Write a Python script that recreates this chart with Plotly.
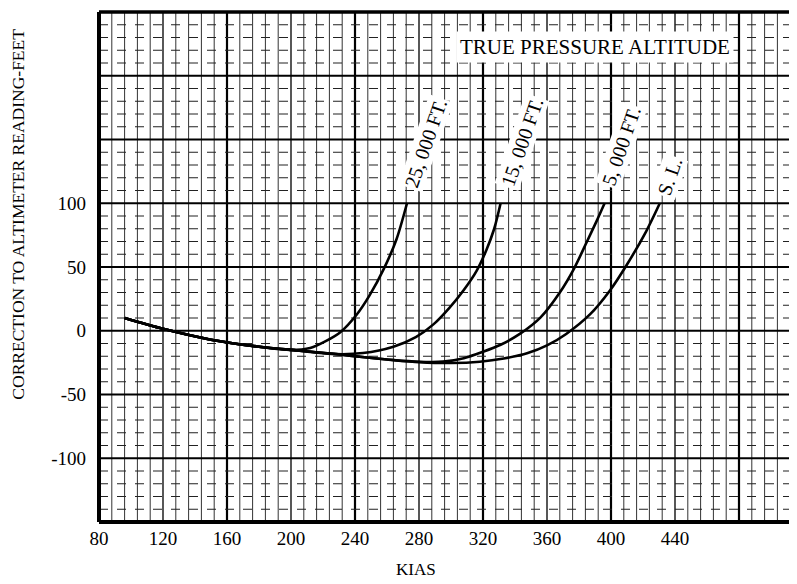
import numpy as np
import plotly.graph_objects as go

# ---- data ----
kias_25k = [96, 120, 150, 180, 200, 212, 222, 231, 241, 249, 258, 266, 272.5]
corr_25k = [10, 1.5, -7, -12.5, -15, -13.5, -8, -1, 12.5, 27.5, 48.5, 72, 100]

kias_15k = [96, 120, 150, 180, 204, 228, 245, 264, 278, 289, 299, 308, 316, 322, 327, 331]
corr_15k = [10, 1.5, -7, -12.5, -15.5, -18.3, -17.5, -12.5, -5, 5, 18, 32, 47, 63, 80, 100]

kias_5k = [96, 120, 150, 180, 204, 228, 246, 264, 280, 295, 308, 320, 331, 343, 356, 368, 377, 385, 391, 396]
corr_5k = [10, 1.5, -7, -12.5, -15.5, -18.3, -20.8, -23, -24.3, -24.2, -21.5, -16.5, -11, -2.5, 10.5, 30, 49, 70, 86, 100]

kias_sl = [96, 120, 150, 180, 204, 228, 246, 264, 280, 300, 318, 333, 348, 360, 372, 387, 399, 410, 422, 430.5]
corr_sl = [10, 1.5, -7, -12.5, -15.5, -18.3, -20.8, -23, -24.6, -25.3, -24.3, -21.8, -17.5, -11.5, -2.5, 13, 31, 52, 78, 100]

series_names = ["25, 000 FT.", "15, 000 FT.", "5, 000 FT.", "S. L."]
label_x = [284.4, 344.4, 406.3, 437.0]
label_y = [147.0, 148.0, 145.0, 121.0]

x_tickvals = [80, 120, 160, 200, 240, 280, 320, 360, 400, 440]
x_ticktext = ["80", "120", "160", "200", "240", "280", "320", "360", "400", "440"]
y_tickvals = [-100, -50, 0, 50, 100]
y_ticktext = ["-100", "-50", "0", "50", "100"]

X_RANGE = [80, 516.25]
Y_RANGE = [-150, 250]

fig = go.Figure()

for xs, ys, nm in zip([kias_25k, kias_15k, kias_5k, kias_sl],
                      [corr_25k, corr_15k, corr_5k, corr_sl], series_names):
    fig.add_trace(go.Scatter(x=xs, y=ys, mode="lines", name=nm,
                             line=dict(color="black", width=2.6, shape="spline", smoothing=0.8),
                             showlegend=False, hoverinfo="skip"))

shapes = []
# vertical grid lines
for v in np.arange(80, 517, 8):
    if v % 80 == 0:
        w, c = 2.2, "black"
    elif v % 40 == 0:
        w, c = 1.4, "#111"
    else:
        w, c = 1.0, "#333"
    shapes.append(dict(type="line", xref="x", yref="y", x0=v, x1=v, y0=Y_RANGE[0], y1=Y_RANGE[1],
                       line=dict(color=c, width=w), layer="below"))
# horizontal grid lines
for h in np.arange(-150, 251, 10):
    if h % 50 == 0:
        shapes.append(dict(type="line", xref="x", yref="y", x0=X_RANGE[0], x1=X_RANGE[1], y0=h, y1=h,
                           line=dict(color="black", width=1.8), layer="below"))
    else:
        shapes.append(dict(type="line", xref="x", yref="y", x0=X_RANGE[0], x1=X_RANGE[1], y0=h, y1=h,
                           line=dict(color="#222", width=1.1, dash="dash"), layer="below"))
# heavy frame: left, top, bottom
shapes.append(dict(type="line", xref="paper", yref="paper", x0=0, x1=0, y0=0, y1=1,
                   line=dict(color="black", width=4)))
shapes.append(dict(type="line", xref="paper", yref="paper", x0=0, x1=1, y0=1, y1=1,
                   line=dict(color="black", width=3.5)))
shapes.append(dict(type="line", xref="paper", yref="paper", x0=0, x1=1, y0=0, y1=0,
                   line=dict(color="black", width=4)))

annotations = []
for nm, lx, ly in zip(series_names, label_x, label_y):
    annotations.append(dict(x=lx, y=ly, xref="x", yref="y", text=nm, showarrow=False,
                            textangle=-71, bgcolor="white", borderpad=1,
                            font=dict(family="Liberation Serif", size=20, color="black")))
annotations.append(dict(x=390, y=222.5, xref="x", yref="y", text="TRUE PRESSURE ALTITUDE",
                        showarrow=False, bgcolor="white", borderpad=3,
                        font=dict(family="Liberation Serif", size=21, color="black")))
annotations.append(dict(x=-0.1165, y=0.604, xref="paper", yref="paper",
                        text="CORRECTION TO ALTIMETER READING-FEET", showarrow=False,
                        textangle=-90, xanchor="center", yanchor="middle", borderpad=0,
                        font=dict(family="Liberation Serif", size=17.5, color="black")))
annotations.append(dict(x=0.454, y=-0.094, xref="paper", yref="paper", text="KIAS",
                        showarrow=False, xanchor="center", yanchor="middle",
                        font=dict(family="Liberation Serif", size=17, color="black")))

# the page body has an 8px margin, so the figure is sized to fill the rest of the window
fig.update_layout(
    width=789, height=576,
    margin=dict(l=91, r=0, t=4, b=62),
    paper_bgcolor="white", plot_bgcolor="white",
    shapes=shapes, annotations=annotations,
    xaxis=dict(range=X_RANGE, tickvals=x_tickvals, ticktext=x_ticktext, showgrid=False,
               zeroline=False, showline=False, ticks="", ticklabelstandoff=3,
               tickfont=dict(family="Liberation Serif", size=19, color="black")),
    yaxis=dict(range=Y_RANGE, tickvals=y_tickvals, ticktext=y_ticktext, showgrid=False,
               zeroline=False, showline=False, ticks="", ticklabelstandoff=12,
               tickfont=dict(family="Liberation Serif", size=19, color="black")),
)

fig.write_html("out.html")
